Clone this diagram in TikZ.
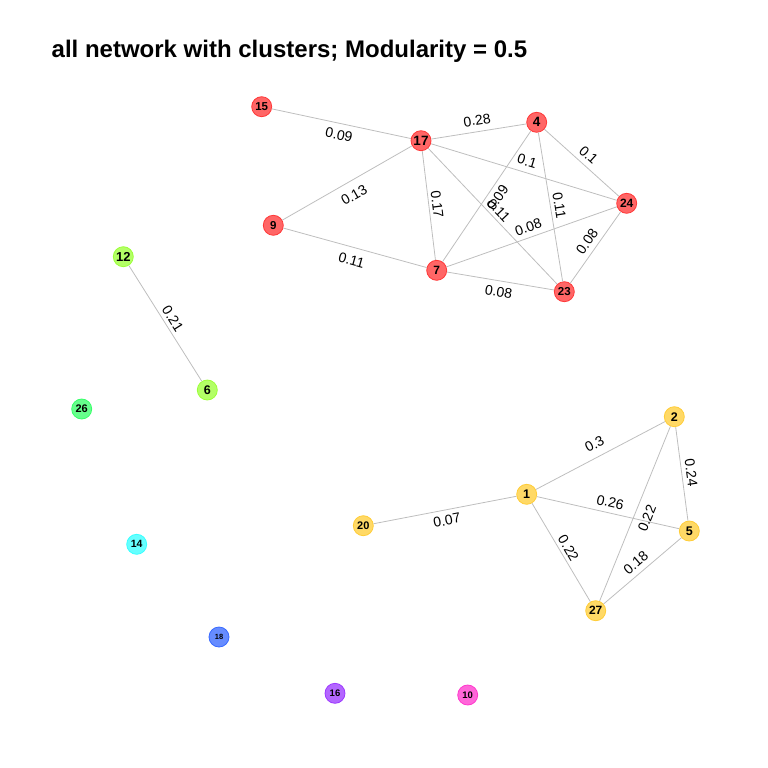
\documentclass[tikz,border=0pt]{standalone}
\usepackage{fontspec}
\setmainfont{Liberation Sans}
\definecolor{cR}{RGB}{255,0,0}
\definecolor{cY}{RGB}{255,191,0}
\definecolor{cL}{RGB}{128,255,0}
\definecolor{cG}{RGB}{0,255,64}
\definecolor{cC}{RGB}{0,255,255}
\definecolor{cB}{RGB}{0,64,255}
\definecolor{cP}{RGB}{128,0,255}
\definecolor{cK}{RGB}{255,0,191}
\definecolor{edgegray}{RGB}{190,190,190}
\tikzset{
  vtx/.style={circle, inner sep=0pt, minimum size=20pt, line width=0.8pt},
  cl/.style={fill=#1!60!white, draw=#1!78!white},
  fs/.style={font=\bfseries\fontsize{#1}{#1}\selectfont},
  lnk/.style={draw=edgegray, line width=0.8pt},
  lbl/.style={sloped, inner sep=0pt, font=\fontsize{14}{14}\selectfont},
}
\begin{document}
\begin{tikzpicture}[x=1pt,y=-1pt]
\useasboundingbox (0,0) rectangle (768,768);
\node[anchor=base west, inner sep=0pt, font=\bfseries\fontsize{24}{26}\selectfont] (title) at (51.5,57.5) {all network with clusters; Modularity = 0.5};
% red cluster
\node[vtx, cl=cR, fs=11.5] (n15) at (261.7,106.7) {15};
\node[vtx, cl=cR, fs=13.5] (n17) at (421,140.7) {17};
\node[vtx, cl=cR, fs=13.5] (n4) at (536.7,122.3) {4};
\node[vtx, cl=cR, fs=12] (n24) at (626.7,203.3) {24};
\node[vtx, cl=cR, fs=11.5] (n9) at (273.3,225.3) {9};
\node[vtx, cl=cR, fs=12] (n7) at (436.7,270.3) {7};
\node[vtx, cl=cR, fs=11.5] (n23) at (564.3,291.7) {23};
% lime
\node[vtx, cl=cL, fs=13] (n12) at (123.3,256.7) {12};
\node[vtx, cl=cL, fs=12.5] (n6) at (207.3,390) {6};
\node[vtx, cl=cG, fs=11] (n26) at (81.7,409) {26};
% yellow
\node[vtx, cl=cY, fs=12.5] (n2) at (674.3,416.7) {2};
\node[vtx, cl=cY, fs=12.5] (n1) at (526.7,494.3) {1};
\node[vtx, cl=cY, fs=11] (n20) at (363.3,525.7) {20};
\node[vtx, cl=cY, fs=12.5] (n5) at (689.3,531) {5};
\node[vtx, cl=cY, fs=12] (n27) at (595.7,610.7) {27};
% singletons
\node[vtx, cl=cC, fs=10.5] (n14) at (136.7,544.3) {14};
\node[vtx, cl=cB, fs=7.5] (n18) at (219,637) {18};
\node[vtx, cl=cP, fs=9.5] (n16) at (335,693.3) {16};
\node[vtx, cl=cK, fs=9.5] (n10) at (467.7,695) {10};
% red edges
\draw[lnk] (n15) -- node[lbl, below=6pt] {0.09} (n17);
\draw[lnk] (n17) -- node[lbl, above=6pt] {0.28} (n4);
\draw[lnk] (n9) -- node[lbl, below=8.5pt] {0.13} (n17);
\draw[lnk] (n17) -- node[lbl, above=3pt] {0.17} (n7);
\draw[lnk] (n17) -- node[lbl, above=6pt] {0.1} (n24);
\draw[lnk] (n4) -- node[lbl, above=5pt] {0.1} (n24);
\draw[lnk] (n7) -- node[lbl, pos=0.53, below=4.5pt] {0.09} (n4);
\draw[lnk] (n17) -- node[lbl, above=3pt] {0.11} (n23);
\draw[lnk] (n4) -- node[lbl, above=3.5pt] {0.11} (n23);
\draw[lnk] (n7) -- node[lbl, above=5pt] {0.08} (n24);
\draw[lnk] (n23) -- node[lbl, above=5pt] {0.08} (n24);
\draw[lnk] (n9) -- node[lbl, below=8pt] {0.11} (n7);
\draw[lnk] (n7) -- node[lbl, below=6pt] {0.08} (n23);
% lime edge
\draw[lnk] (n12) -- node[lbl, above=3.5pt] {0.21} (n6);
% yellow edges
\draw[lnk] (n1) -- node[lbl, above=7.5pt] {0.3} (n2);
\draw[lnk] (n2) -- node[lbl, above=4pt] {0.24} (n5);
\draw[lnk] (n1) -- node[lbl, above=5pt] {0.26} (n5);
\draw[lnk] (n27) -- node[lbl, below=7.5pt] {0.22} (n2);
\draw[lnk] (n1) -- node[lbl, above=3pt] {0.22} (n27);
\draw[lnk] (n20) -- node[lbl, below=5pt] {0.07} (n1);
\draw[lnk] (n27) -- node[lbl, above=5pt] {0.18} (n5);
\end{tikzpicture}
\end{document}
